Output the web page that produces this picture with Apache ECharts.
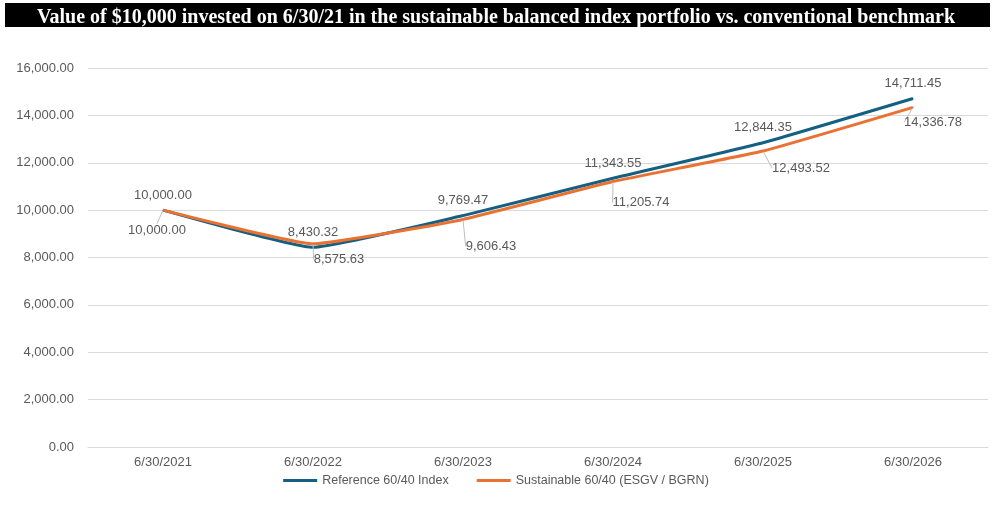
<!DOCTYPE html>
<html>
<head>
<meta charset="utf-8">
<script src="https://cdn.jsdelivr.net/npm/echarts@6/dist/echarts.min.js"></script>
<style>
html,body{margin:0;padding:0;background:#fff;}
#chart{width:992px;height:511px;}
</style>
</head>
<body>
<div id="chart"></div>
<script>
var titleText = 'Value of $10,000 invested on 6/30/21 in the sustainable balanced index portfolio vs. conventional benchmark';
var categories = ['6/30/2021', '6/30/2022', '6/30/2023', '6/30/2024', '6/30/2025', '6/30/2026'];
var referenceName = 'Reference 60/40 Index';
var sustainableName = 'Sustainable 60/40 (ESGV / BGRN)';
var referenceValues = [10000.00, 8430.32, 9769.47, 11343.55, 12844.35, 14711.45];
var sustainableValues = [10000.00, 8575.63, 9606.43, 11205.74, 12493.52, 14336.78];
var yTicks = [0, 2000, 4000, 6000, 8000, 10000, 12000, 14000, 16000];

function fmt(v) {
  return Number(v).toLocaleString('en-US', {minimumFractionDigits: 2, maximumFractionDigits: 2});
}

// label nudges for the lower (sustainable) series labels
var orangeShift = [[-6, 8], [26, 4], [28, 15], [28, 9], [38, 5], [20, 3]];

var chart = echarts.init(document.getElementById('chart'), null, {renderer: 'canvas'});
var fontFam = '"Liberation Sans", Arial, sans-serif';
var grey = '#595959';

var option = {
  backgroundColor: '#ffffff',
  animation: false,
  graphic: [{
    type: 'rect',
    left: 5, top: 3,
    shape: {width: 985, height: 24},
    style: {fill: '#000000'},
    z: 0
  }],
  title: {
    text: titleText,
    left: 'center',
    top: 3,
    textStyle: {
      color: '#ffffff',
      fontFamily: '"Liberation Serif", "Times New Roman", serif',
      fontWeight: 'bold',
      fontSize: 20
    },
    z: 10
  },
  grid: {left: 88, right: 4, top: 68, bottom: 64},
  legend: {
    bottom: 19,
    left: 'center',
    itemWidth: 34,
    itemHeight: 3,
    itemGap: 28,
    icon: 'rect',
    textStyle: {color: grey, fontSize: 12.5, fontFamily: fontFam},
    data: [referenceName, sustainableName]
  },
  xAxis: {
    type: 'category',
    data: categories,
    boundaryGap: true,
    axisLine: {show: true, lineStyle: {color: '#d9d9d9'}},
    axisTick: {show: false},
    axisLabel: {color: grey, fontSize: 13, fontFamily: fontFam, margin: 9}
  },
  yAxis: {
    type: 'value',
    min: yTicks[0],
    max: yTicks[yTicks.length - 1],
    interval: 2000,
    axisLine: {show: false},
    axisTick: {show: false},
    splitLine: {lineStyle: {color: '#d9d9d9', width: 1}},
    axisLabel: {color: grey, fontSize: 13, fontFamily: fontFam, margin: 14, formatter: fmt}
  },
  series: [
    {
      name: referenceName,
      type: 'line',
      data: referenceValues,
      smooth: 0.12,
      symbol: 'circle',
      symbolSize: 1,
      showSymbol: true,
      lineStyle: {color: '#156082', width: 3},
      itemStyle: {color: '#156082'},
      label: {
        show: true,
        position: 'top',
        distance: 8,
        color: grey,
        fontSize: 13,
        fontFamily: fontFam,
        formatter: function (p) { return fmt(p.value); }
      },
      z: 3
    },
    {
      name: sustainableName,
      type: 'line',
      data: sustainableValues,
      smooth: 0.12,
      symbol: 'circle',
      symbolSize: 1,
      showSymbol: true,
      lineStyle: {color: '#E97132', width: 3},
      itemStyle: {color: '#E97132'},
      label: {
        show: true,
        position: 'bottom',
        distance: 5,
        color: grey,
        fontSize: 13,
        fontFamily: fontFam,
        formatter: function (p) { return fmt(p.value); }
      },
      labelLine: {show: true, lineStyle: {color: '#bfbfbf', width: 1}},
      labelLayout: function (params) {
        var s = orangeShift[params.dataIndex] || [0, 0];
        return {dx: s[0], dy: s[1]};
      },
      z: 4
    }
  ]
};
chart.setOption(option);
</script>
</body>
</html>
